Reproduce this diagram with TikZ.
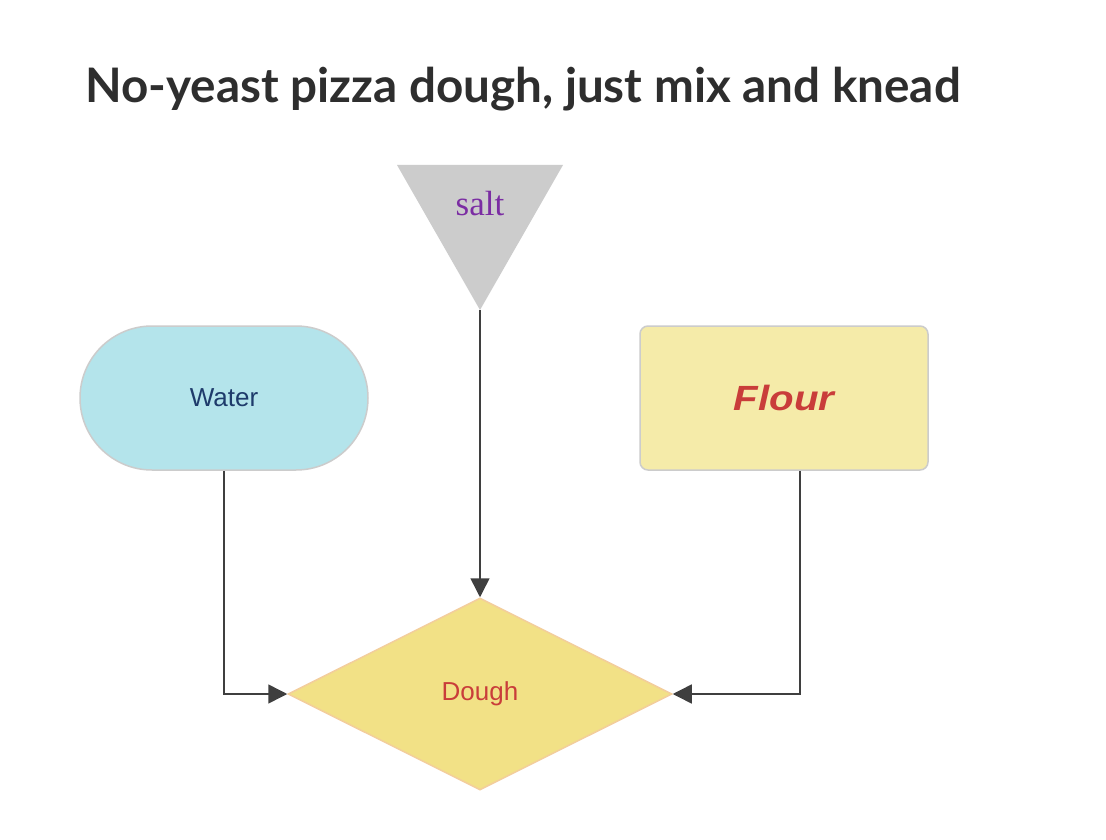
\documentclass[tikz,border=0pt]{standalone}
\usepackage{fontspec}
\setmainfont{Liberation Sans}
\newfontfamily\titlefont{Lato}
\newfontfamily\saltfont{Liberation Serif}
\usetikzlibrary{shapes.geometric,arrows.meta}

\definecolor{inkgray}{HTML}{3F3F3F}
\definecolor{titleink}{HTML}{2E2E2E}
\definecolor{saltfill}{HTML}{CCCCCC}
\definecolor{saltink}{HTML}{7B2DA3}
\definecolor{waterfill}{HTML}{B4E4EB}
\definecolor{waterink}{HTML}{1E3B6B}
\definecolor{flourfill}{HTML}{F5EBA9}
\definecolor{boxedge}{HTML}{CCCCCC}
\definecolor{redink}{HTML}{C93D3A}
\definecolor{doughfill}{HTML}{F2E186}
\definecolor{doughedge}{HTML}{F3CE9C}

\tikzset{
  flow/.style={draw=inkgray, line width=1.5pt,
    -{Triangle[length=19pt,width=19pt]}},
  terminal/.style={draw=boxedge, line width=1.5pt, fill=waterfill,
    rounded corners=72pt, minimum width=288pt, minimum height=144pt,
    inner sep=0pt},
  ingredient/.style={draw=boxedge, line width=1.5pt, fill=flourfill,
    rounded corners=8pt, minimum width=288pt, minimum height=144pt,
    inner sep=0pt},
  mixer/.style={diamond, draw=doughedge, line width=1.5pt, fill=doughfill,
    minimum width=384pt, minimum height=192pt, inner sep=0pt, aspect=2},
}

\begin{document}
\begin{tikzpicture}[x=1pt,y=-1pt]
  \useasboundingbox[fill=white] (0,0) rectangle (1106,840);

  % title
  \node[anchor=base west, inner sep=0pt, text=titleink,
        font=\titlefont\bfseries\fontsize{47.6}{52}\selectfont]
    (title) at (85,103) {No-yeast pizza dough, just mix and knead};

  % salt funnel
  \fill[saltfill] (397,165) -- (563,165) -- (480,310) -- cycle;
  \coordinate (saltTip) at (480,310);
  \node[text=saltink, font=\saltfont\fontsize{35}{38}\selectfont, inner sep=0pt]
    (salt) at (480,204) {salt};

  % inputs
  \node[terminal, text=waterink, font=\fontsize{26}{30}\selectfont]
    (water) at (224,398) {Water};
  \node[ingredient, text=redink, font=\bfseries\itshape\fontsize{35}{40}\selectfont]
    (flour) at (784,398) {\scalebox{1.15}[1]{Flour}};

  % result
  \node[mixer, text=redink, font=\fontsize{26}{30}\selectfont]
    (dough) at (480,694) {\raisebox{-2pt}{Dough}};

  % connectors
  \draw[flow] (saltTip) -- (dough.north);
  \draw[flow] (water.south) |- (dough.west);
  \draw[flow] ([xshift=16pt]flour.south) |- (dough.east);
\end{tikzpicture}
\end{document}
